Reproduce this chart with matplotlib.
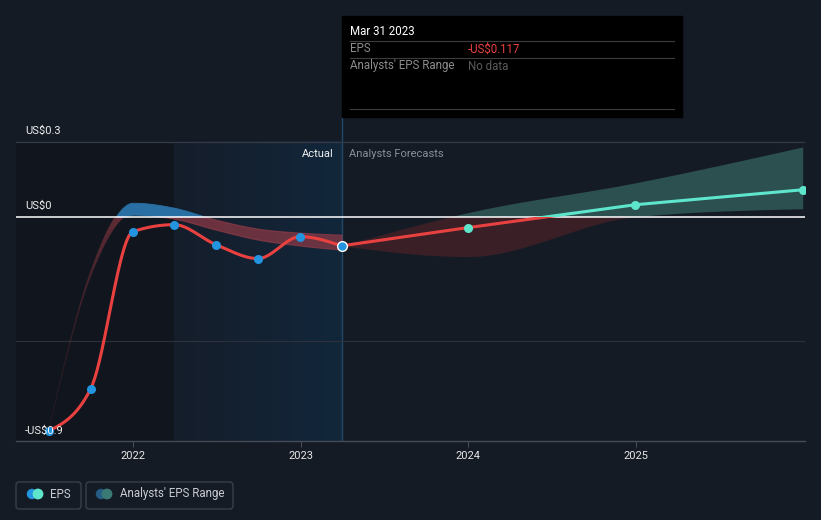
import matplotlib
matplotlib.use("Agg")
import matplotlib.pyplot as plt
import matplotlib.dates as mdates
from matplotlib.patches import Rectangle, FancyBboxPatch, Circle
from matplotlib.lines import Line2D
from matplotlib.colors import LinearSegmentedColormap
import matplotlib.transforms as mtransforms
import numpy as np
import pandas as pd

plt.rcParams['font.family'] = ['Roboto', 'DejaVu Sans']

# reported EPS (US$), trailing twelve months
eps_dates = ["2021-06-30", "2021-09-30", "2021-12-31", "2022-03-31",
             "2022-06-30", "2022-09-30", "2022-12-31", "2023-03-31"]
eps_values = [-0.86, -0.69, -0.06, -0.032, -0.112, -0.168, -0.08, -0.117]

# analyst estimate range at the time
past_low = [-0.86, -0.235, 0.008, -0.008, -0.052, -0.092, -0.116, -0.132]
past_high = [-0.86, -0.222, 0.056, 0.036, -0.012, -0.048, -0.064, -0.072]

# analyst forecasts
fc_dates = ["2023-03-31", "2023-12-31", "2024-12-31", "2025-12-31"]
fc_eps = [-0.117, -0.044, 0.048, 0.108]
fc_low = [-0.117, -0.16, 0.0, 0.032]
fc_high = [-0.117, 0.016, 0.136, 0.28]

year_ticks = ["2022-01-01", "2023-01-01", "2024-01-01", "2025-01-01"]
year_labels = ["2022", "2023", "2024", "2025"]
y_labels = {0.3: "US$0.3", 0.0: "US$0", -0.9: "-US$0.9"}

BG = "#151b25"
RED = "#e8413f"
BLUE = "#2394e0"
TEAL = "#5ee6cc"


def dnum(s):
    return mdates.date2num(pd.to_datetime(s))


def smooth(x, y, n=40):
    # monotone cubic (d3 monotoneX style) through the points, only for drawing
    x = np.asarray(x, float)
    y = np.asarray(y, float)
    h = np.diff(x)
    s = np.diff(y) / h
    m = np.zeros_like(y)
    for i in range(1, len(y) - 1):
        p = (s[i - 1] * h[i] + s[i] * h[i - 1]) / (h[i - 1] + h[i])
        m[i] = (np.sign(s[i - 1]) + np.sign(s[i])) * min(abs(s[i - 1]), abs(s[i]), 0.5 * abs(p))
    m[0] = (3 * s[0] - m[1]) / 2
    m[-1] = (3 * s[-1] - m[-2]) / 2
    xs, ys = [], []
    t = np.linspace(0, 1, n)
    for i in range(len(h)):
        h00 = 2 * t**3 - 3 * t**2 + 1
        h10 = t**3 - 2 * t**2 + t
        h01 = -2 * t**3 + 3 * t**2
        h11 = t**3 - t**2
        xs.append(x[i] + t * h[i])
        ys.append(h00 * y[i] + h10 * h[i] * m[i] + h01 * y[i + 1] + h11 * h[i] * m[i + 1])
    return np.concatenate(xs), np.concatenate(ys)


fig = plt.figure(figsize=(8.21, 5.2), dpi=100, facecolor=BG)
ax = fig.add_axes([16 / 821, (520 - 441) / 520, (805 - 16) / 821, (441 - 117) / 520])
ax.set_facecolor(BG)

x0, x1 = dnum("2021-04-20"), dnum("2026-01-05")
ax.set_xlim(x0, x1)
ax.set_ylim(-0.9, 0.4)

ex = [dnum(d) for d in eps_dates]
fx = [dnum(d) for d in fc_dates]
now = ex[-1]
yr_ago = ex[3]

# shaded regions
ax.fill_between([x0, yr_ago], -0.9, 0.3, color="#11151d", lw=0, zorder=0)
cmap = LinearSegmentedColormap.from_list("g", ["#151d2a", "#12273b"])
ax.imshow(np.linspace(0, 1, 100).reshape(1, -1), cmap=cmap, aspect="auto",
          extent=[yr_ago, now, -0.9, 0.3], zorder=0)
ax.plot([now, now], [-0.9, 0.4], color="#1d4a6c", lw=1, zorder=1)

# grid
ax.axhline(0.3, color="#353a45", lw=0.9, zorder=1)
ax.axhline(-0.5, color="#2c313b", lw=0.8, zorder=1)

above = Rectangle((x0, 0), x1 - x0, 1, transform=ax.transData)
below = Rectangle((x0, -1), x1 - x0, 1, transform=ax.transData)

# past estimate band, fading in on the left
bx, bl = smooth(ex, past_low, n=60)
_, bh = smooth(ex, past_high, n=60)
p = ax.fill_between(bx, bl, bh, color="#2a6fa3", lw=0.6, ec="#2a6fa3", zorder=2)
p.set_clip_path(above)
fade_end = dnum("2021-12-15")
cut = int(np.searchsorted(bx, fade_end))
for k in range(0, cut, 3):
    j = min(k + 3, cut)
    frac = (bx[k] - ex[0]) / (fade_end - ex[0])
    seg = ax.plot(bx[k:j + 1], (bl[k:j + 1] + bh[k:j + 1]) / 2, color="#9a3c48",
                  alpha=0.1 + 0.55 * frac, lw=0.8 + 6 * frac ** 3, zorder=2,
                  solid_capstyle="butt")[0]
    seg.set_clip_path(below)
p = ax.fill_between(bx[cut:], bl[cut:], bh[cut:], color="#9a3c48", alpha=0.65,
                    lw=0.8, ec="#9a3c48", zorder=2)
p.set_clip_path(below)

# forecast band
fxs, fls = smooth(fx, fc_low)
_, fhs = smooth(fx, fc_high)
p = ax.fill_between(fxs, fls, fhs, color="#2c4f50", lw=0, zorder=2)
p.set_clip_path(above)
p = ax.fill_between(fxs, fls, fhs, color="#3a1f27", lw=0, zorder=2)
p.set_clip_path(below)

ax.axhline(0, color="white", lw=1.1, zorder=3)

# EPS line
sx, sy = smooth(ex, eps_values)
ax.plot(sx, sy, color=RED, lw=2.2, zorder=4, solid_capstyle="round")
ax.plot(ex[:-1], eps_values[:-1], "o", color=BLUE, ms=6.5, mec="none", zorder=5)
ax.plot(ex[-1], eps_values[-1], "o", color=BLUE, ms=7, mec="white", mew=1, zorder=6)

ln, = ax.plot(fx, fc_eps, color=RED, lw=2.2, zorder=4)
ln.set_clip_path(below)
ln, = ax.plot(fx, fc_eps, color=TEAL, lw=2.2, zorder=4)
ln.set_clip_path(above)
ax.plot(fx[1:], fc_eps[1:], "o", color=TEAL, ms=6.5, mec="none", zorder=5)

# axes styling
for s in ["top", "right", "left"]:
    ax.spines[s].set_visible(False)
ax.spines["bottom"].set_color("#454a55")
ax.spines["bottom"].set_linewidth(1)
ax.set_xticks([dnum(d) for d in year_ticks])
ax.set_xticklabels(year_labels)
ax.tick_params(axis="x", colors="#454a55", labelcolor="#e6e6e6", length=4,
               labelsize=8, pad=3)
ax.set_yticks([])

tr = mtransforms.blended_transform_factory(ax.transAxes, ax.transData)
for v, lab in y_labels.items():
    ax.text(9 / 789, v + 0.03, lab, transform=tr, color="#eeeeee", fontsize=8,
            va="baseline", ha="left", zorder=7)

off = 17
ax.text(now - off, 0.252, "Actual", color="#f0f0f0", fontsize=8, ha="right", va="center", zorder=7)
ax.text(now + off, 0.252, "Analysts Forecasts", color="#8a8f98", fontsize=8, ha="left", va="center", zorder=7)

# tooltip and legend, placed in pixels
T = fig.dpi_scale_trans


def P(x, y):
    return x / 100, (520 - y) / 100


fig.add_artist(Rectangle(P(342, 117), 3.40, 1.01, transform=T, color="black", zorder=10))
for yy in [41, 58, 109]:
    fig.add_artist(Line2D([3.50, 6.74], [(520 - yy) / 100] * 2, transform=T,
                          color="#3c3c3c", lw=0.8, zorder=11))
fig.text(*P(350, 31), "Mar 31 2023", transform=T, color="white", fontsize=8.3,
         va="center", zorder=12)
fig.text(*P(350, 49), "EPS", transform=T, color="#8c8c8c", fontsize=8.3, va="center", zorder=12)
fig.text(*P(468, 49), "-US$0.117", transform=T, color=RED, fontsize=8.3, va="center", zorder=12)
fig.text(*P(350, 66), "Analysts' EPS Range", transform=T, color="#8c8c8c", fontsize=8.3,
         va="center", zorder=12)
fig.text(*P(468, 66), "No data", transform=T, color="#5a5a5a", fontsize=8.3, va="center", zorder=12)

for bx0, bx1 in [(16, 81), (86, 233)]:
    fig.add_artist(FancyBboxPatch(P(bx0, 509), (bx1 - bx0) / 100, 0.27, transform=T,
                                  boxstyle="round,pad=0,rounding_size=0.03",
                                  fc="none", ec="#3a3f4a", lw=1))
fig.add_artist(Circle(P(32, 494), 0.045, transform=T, color=BLUE, zorder=3))
fig.add_artist(Circle(P(38, 494), 0.047, transform=T, color=TEAL, zorder=4))
fig.add_artist(Circle(P(101, 494), 0.045, transform=T, color="#245c86", zorder=3))
fig.add_artist(Circle(P(107, 494), 0.047, transform=T, color="#3b7a74", zorder=4))
fig.text(*P(50, 494), "EPS", transform=T, color="#c9cdd3", fontsize=8.3, va="center")
fig.text(*P(120, 494), "Analysts' EPS Range", transform=T, color="#c9cdd3", fontsize=8.3, va="center")

fig.savefig("out.png", dpi=100, facecolor=BG)
